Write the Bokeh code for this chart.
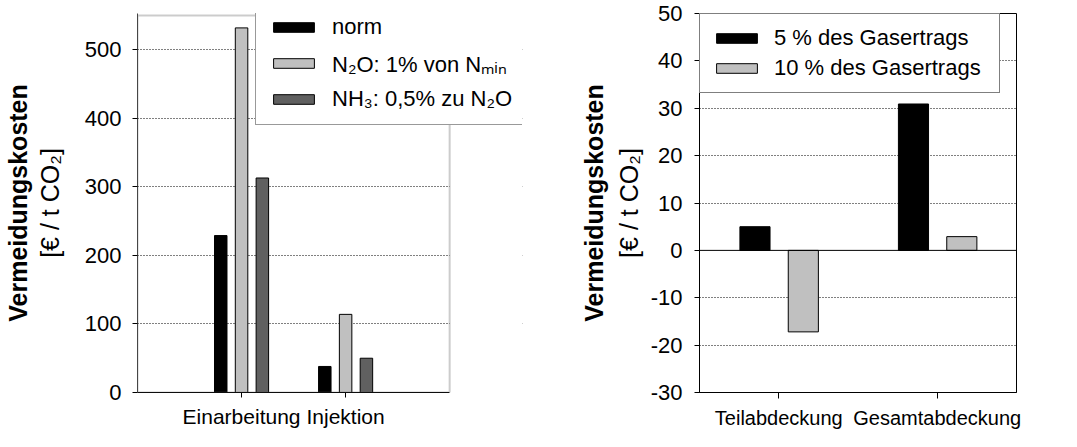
from bokeh.plotting import figure
from bokeh.models import (ColumnDataSource, FactorRange, Range1d, LinearAxis, FixedTicker,
                          Legend, LegendItem, Span, BoxAnnotation, PrintfTickFormatter)
from bokeh.transform import dodge
from bokeh.layouts import row
from bokeh.embed import file_html
from bokeh.resources import INLINE

# ---------------- data ----------------
# left chart
methods = ["Einarbeitung", "Injektion"]
norm = [229, 38]
n2o_1pct = [532, 114]
nh3_05pct = [313, 50]
left_labels = ["norm", "N₂O: 1% von Nₘᵢₙ", "NH₃: 0,5% zu N₂O"]
left_yticks = [0, 100, 200, 300, 400, 500]
left_grid = [100, 200, 300, 400, 500]
left_ymax = 550

# right chart
covers = ["Teilabdeckung", "Gesamtabdeckung"]
gas5 = [5.0, 30.9]
gas10 = [-17.2, 2.9]
right_labels = ["5 % des Gasertrags", "10 % des Gasertrags"]
right_yticks = [-30, -20, -10, 0, 10, 20, 30, 40, 50]
right_grid = [-20, -10, 10, 20, 30, 40]

y_label_bold = "Vermeidungskosten"
y_label_unit = "[€ / t CO₂]"

FONT = "Liberation Sans"
TICK_FS = "22px"
LABEL_FS = "25px"
BLACK = "#000000"
LIGHT = "#c0c0c0"
DARK = "#606060"


def style(p, yticks, grid_ticks, x_tick_out, x_std, y_std, unit_std, bold_std):
    for ax in (p.xaxis[0], p.yaxis[0]):
        ax.axis_line_color = "black"
        ax.axis_line_width = 1
        ax.major_tick_line_color = "black"
        ax.major_tick_in = 0
        ax.minor_tick_line_color = None
        ax.major_label_text_font = FONT
        ax.major_label_text_font_size = TICK_FS
        ax.major_label_text_color = "black"
    p.xaxis[0].major_tick_out = x_tick_out
    p.xaxis[0].major_label_standoff = x_std
    p.yaxis[0].major_tick_out = 5
    p.yaxis[0].major_label_standoff = y_std
    p.yaxis[0].ticker = FixedTicker(ticks=yticks)
    p.yaxis[0].formatter = PrintfTickFormatter(format="%d")
    p.yaxis[0].axis_label = y_label_unit
    p.yaxis[0].axis_label_text_font = FONT
    p.yaxis[0].axis_label_text_font_size = LABEL_FS
    p.yaxis[0].axis_label_text_font_style = "normal"
    p.yaxis[0].axis_label_text_color = "black"
    p.yaxis[0].axis_label_standoff = unit_std

    outer = LinearAxis(ticker=FixedTicker(ticks=[]), axis_label=y_label_bold,
                       axis_line_color=None, major_tick_line_color=None,
                       minor_tick_line_color=None, major_tick_out=0, major_tick_in=0,
                       minor_tick_out=0, minor_tick_in=0, major_label_standoff=0,
                       axis_label_text_font=FONT, axis_label_text_font_size=LABEL_FS,
                       axis_label_text_font_style="bold", axis_label_text_color="black",
                       axis_label_standoff=bold_std)
    p.add_layout(outer, "left")

    p.xgrid.visible = False
    p.ygrid.ticker = FixedTicker(ticks=grid_ticks)
    p.ygrid.grid_line_color = "black"
    p.ygrid.grid_line_dash = "1 2"
    p.ygrid.grid_line_width = 1
    p.background_fill_color = "white"
    p.border_fill_color = "white"


# ---------------- left figure ----------------
method_pos = [i + 1 for i in range(len(methods))]
x_end = len(methods) + 1          # right spine of the plot area
p1 = figure(width=552, height=431,
            x_range=Range1d(0, x_end + 0.7),   # extra room (kept blank) for the overhanging legend
            y_range=Range1d(0, left_ymax + 3),
            output_backend="svg", toolbar_location=None, title=None,
            min_border_left=130, min_border_right=30, min_border_top=6, min_border_bottom=37)
p1.outline_line_color = None
style(p1, left_yticks, left_grid, 5, 7, 11, 18, 1)
p1.yaxis[0].axis_line_color = "#444444"
p1.xaxis[0].ticker = FixedTicker(ticks=method_pos)
p1.xaxis[0].major_label_overrides = {pos: m for pos, m in zip(method_pos, methods)}
p1.xaxis[0].major_label_text_font_size = "21px"
p1.xaxis[0].bounds = (0, x_end)

# blank out the area right of the spine, then draw the framed plot area
p1.add_layout(BoxAnnotation(left=x_end, fill_color="white", fill_alpha=1, line_color=None))
p1.add_layout(BoxAnnotation(left=0, right=x_end, bottom=0, top=left_ymax,
                            fill_alpha=0, line_color="#555555", line_width=2))

src1 = ColumnDataSource(dict(pos=method_pos, method=methods, norm=norm, n2o=n2o_1pct, nh3=nh3_05pct))
r1 = p1.vbar(x=dodge("pos", -0.2), top="norm", width=0.12, source=src1,
             fill_color=BLACK, line_color="black", line_width=1)
r2 = p1.vbar(x=dodge("pos", 0.0), top="n2o", width=0.12, source=src1,
             fill_color=LIGHT, line_color="black", line_width=1)
r3 = p1.vbar(x=dodge("pos", 0.2), top="nh3", width=0.12, source=src1,
             fill_color=DARK, line_color="black", line_width=1)

leg1 = Legend(items=[LegendItem(label=l, renderers=[r]) for l, r in zip(left_labels, [r1, r2, r3])],
              location=(118, 267), margin=0, padding=12, spacing=8,
              glyph_width=51, glyph_height=12, label_standoff=13,
              label_text_font=FONT, label_text_font_size=TICK_FS, label_text_color="black",
              border_line_color="#333333", border_line_width=1,
              background_fill_color="white", background_fill_alpha=1)
p1.add_layout(leg1)

# ---------------- right figure ----------------
p2 = figure(width=493, height=431,
            x_range=FactorRange(factors=covers, range_padding=0),
            y_range=Range1d(-30, 50),
            output_backend="svg", toolbar_location=None, title=None,
            min_border_left=147, min_border_right=29, min_border_top=13, min_border_bottom=38)
p2.outline_line_color = "black"
p2.outline_line_width = 1
style(p2, right_yticks, right_grid, 6, 8, 12, 5, 4)
p2.xaxis[0].major_label_text_font_size = "20px"

p2.add_layout(Span(location=0, dimension="width", line_color="black", line_width=1))

src2 = ColumnDataSource(dict(cover=covers, g5=gas5, g10=gas10))
q1 = p2.vbar(x=dodge("cover", -0.15, range=p2.x_range), top="g5", width=0.19, source=src2,
             fill_color=BLACK, line_color="black", line_width=1)
q2 = p2.vbar(x=dodge("cover", 0.155, range=p2.x_range), top="g10", width=0.19, source=src2,
             fill_color=LIGHT, line_color="black", line_width=1)

leg2 = Legend(items=[LegendItem(label=l, renderers=[r]) for l, r in zip(right_labels, [q1, q2])],
              location="top_left", margin=0, padding=11, spacing=4,
              glyph_width=51, glyph_height=12, label_standoff=12, label_width=214,
              label_text_font=FONT, label_text_font_size=TICK_FS, label_text_color="black",
              border_line_color="black", border_line_width=1,
              background_fill_color="white", background_fill_alpha=1)
p2.add_layout(leg2)

layout = row(p1, p2)
open("out.html", "w").write(file_html(layout, INLINE))
